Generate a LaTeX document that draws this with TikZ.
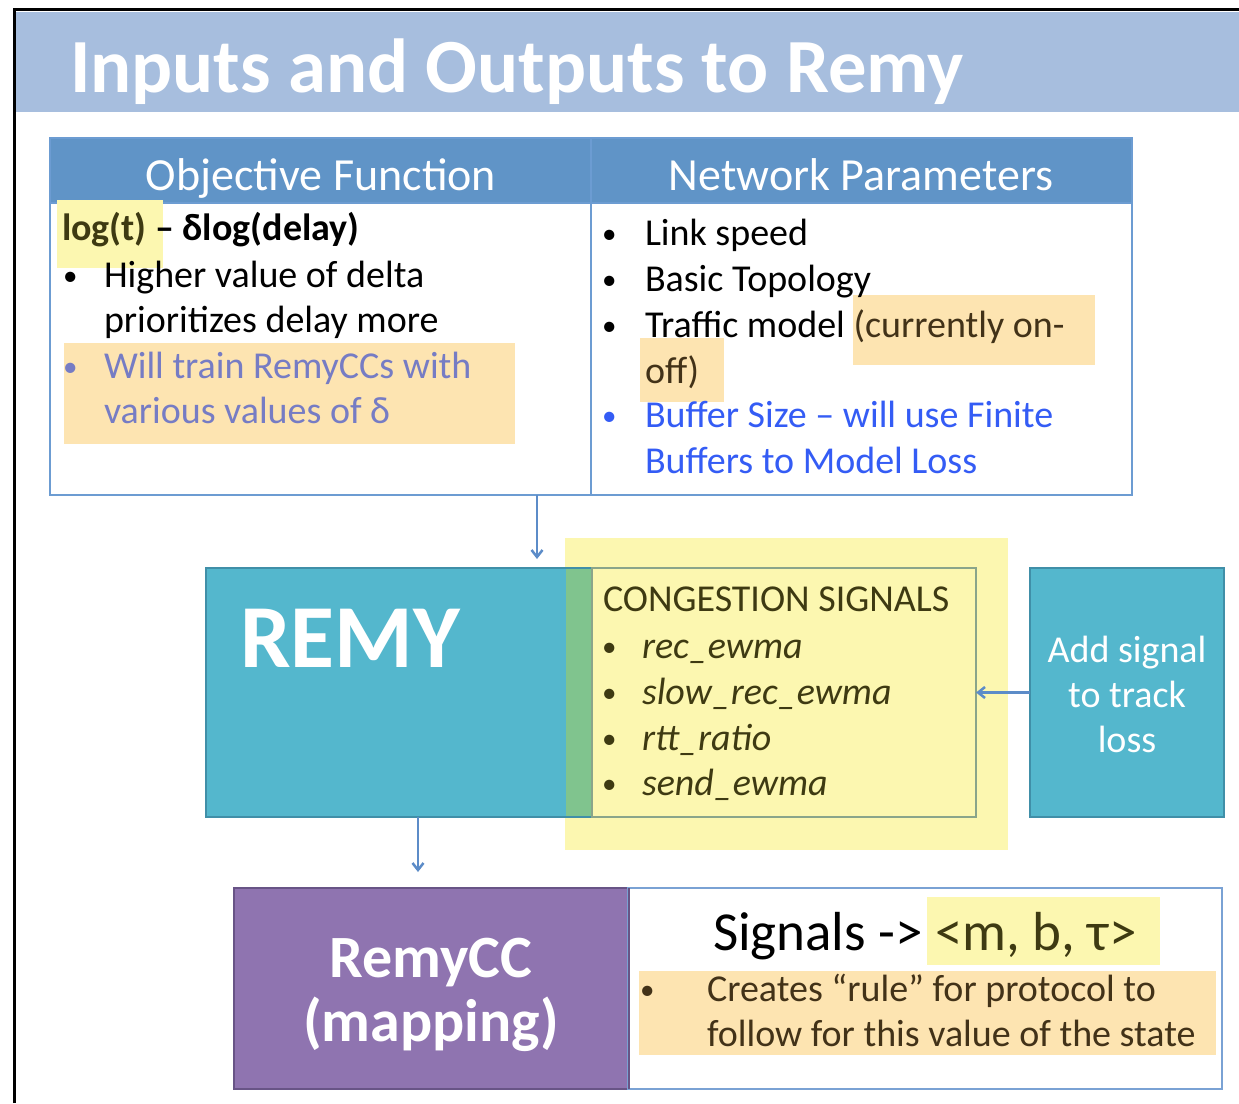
\documentclass[tikz,border=0pt]{standalone}
\usepackage{fontspec}
\setmainfont{Carlito}
\usetikzlibrary{arrows.meta}

\definecolor{titleband}{RGB}{167,190,222}
\definecolor{headfill}{RGB}{96,148,199}
\definecolor{tabline}{RGB}{108,156,210}
\definecolor{tealfill}{RGB}{84,183,205}
\definecolor{tealline}{RGB}{64,143,168}
\definecolor{greenstrip}{RGB}{128,196,142}
\definecolor{hlyellow}{RGB}{252,247,176}
\definecolor{hlorange}{RGB}{253,228,177}
\definecolor{purplefill}{RGB}{143,116,176}
\definecolor{purpleline}{RGB}{104,84,134}
\definecolor{sigline}{RGB}{138,165,138}
\definecolor{blueline}{RGB}{122,162,212}
\definecolor{conncol}{RGB}{92,140,200}
\definecolor{bluetext}{RGB}{52,92,245}
\definecolor{mutedblue}{RGB}{118,124,196}
\definecolor{olivetext}{RGB}{62,58,18}
\definecolor{browntext}{RGB}{66,50,24}

\newcommand{\bodyfont}{\fontsize{38}{45}\selectfont}

\begin{document}
\begin{tikzpicture}[x=1pt,y=-1pt,
  txt/.style={inner sep=0pt, outer sep=0pt, anchor=base west, font=\bodyfont},
  ctxt/.style={inner sep=0pt, outer sep=0pt, anchor=base, font=\bodyfont},
  dot/.style={inner sep=0pt, outer sep=0pt, anchor=base west, font=\fontsize{29}{29}\selectfont},
  panel/.style={anchor=north west, inner sep=0pt, outer sep=0pt, line width=2.5pt},
  conn/.style={draw=conncol, line width=2.5pt, -{Straight Barb[length=7pt,width=11pt,line width=2.5pt]}}
]
\useasboundingbox (0,0) rectangle (1239,1103);
\fill[white] (0,0) rectangle (1239,1103);

% slide frame and title band
\fill[titleband] (16,12) rectangle (1239,112);
\draw[black, line width=3pt] (14,1103) -- (14,9) -- (1239,9);
\node[txt, font=\fontsize{76.6}{80}\selectfont\bfseries, text=white] (title) at (70,92) {Inputs and Outputs to Remy};

% ---------- inputs table ----------
\node[panel, fill=headfill, draw=tabline, minimum width=1082, minimum height=65] (head) at (50,138) {};
\node[panel, draw=tabline, minimum width=1082, minimum height=357] (table) at (50,138) {};
\draw[tabline, line width=2.5pt] (head.south west) -- (head.south east);
\coordinate (divtop) at (591,138);
\coordinate (divbot) at (591,495);
\draw[tabline, line width=2.5pt] (divtop) -- (divbot);
\node[ctxt, font=\fontsize{46}{50}\selectfont, text=white] (objhead) at (321,190) {Objective Function};
\node[ctxt, font=\fontsize{46}{50}\selectfont, text=white] (nethead) at (861,190) {Network Parameters};

% highlights behind the table text
\fill[hlyellow] (57,200) rectangle (163,268);
\fill[hlorange] (64,343) rectangle (515,444);
\fill[hlorange] (853,295) rectangle (1095,365);
\fill[hlorange] (640,338) rectangle (724,402);

% objective function column
\node[txt, font=\bodyfont\bfseries] (obj) at (62,240) {\textcolor{olivetext}{log(t)} – δlog(delay)};
\node[dot] (b1) at (63,285) {•};
\node[txt] (hi1) at (104,287) {Higher value of delta};
\node[txt] (hi2) at (104,332) {prioritizes delay more};
\node[dot, text=mutedblue] (b2) at (63,376) {•};
\node[txt, text=mutedblue] (tr1) at (104,378) {Will train RemyCCs with};
\node[txt, text=mutedblue] (tr2) at (104,423) {various values of δ};

% network parameters column
\node[dot] (b3) at (602,243) {•};
\node[txt] (np1) at (645,245) {Link speed};
\node[dot] (b4) at (602,289) {•};
\node[txt] (np2) at (645,291) {Basic Topology};
\node[dot] (b5) at (602,335) {•};
\node[txt] (np3) at (645,337) {Traffic model \textcolor{browntext}{(currently on-}};
\node[txt, text=browntext] (np3b) at (645,383) {off)};
\node[dot, text=bluetext] (b6) at (602,425) {•};
\node[txt, text=bluetext] (np4) at (645,427) {Buffer Size – will use Finite};
\node[txt, text=bluetext] (np4b) at (645,473) {Buffers to Model Loss};

% ---------- Remy and its congestion signals ----------
\fill[hlyellow] (565,538) rectangle (1008,850);
\node[panel, fill=tealfill, draw=tealline, minimum width=386, minimum height=249] (remy) at (206,568) {};
\fill[greenstrip] (566,569.25) rectangle (592,815.75);
\node[panel, draw=sigline, minimum width=384, minimum height=249] (sig) at (592,568) {};
\node[txt, font=\fontsize{90}{90}\selectfont\bfseries, text=white] (remylabel) at (240,667) {REMY};

\node[txt, text=olivetext] (sighead) at (603,611) {CONGESTION SIGNALS};
\node[dot, text=olivetext] (s1b) at (602,656) {•};
\node[txt, text=olivetext, font=\bodyfont\itshape] (s1) at (642,658) {rec\_ewma};
\node[dot, text=olivetext] (s2b) at (602,702) {•};
\node[txt, text=olivetext, font=\bodyfont\itshape] (s2) at (642,704) {slow\_rec\_ewma};
\node[dot, text=olivetext] (s3b) at (602,748) {•};
\node[txt, text=olivetext, font=\bodyfont\itshape] (s3) at (642,750) {rtt\_ratio};
\node[dot, text=olivetext] (s4b) at (602,793) {•};
\node[txt, text=olivetext, font=\bodyfont\itshape] (s4) at (642,795) {send\_ewma};

% new loss signal
\node[panel, fill=tealfill, draw=tealline, minimum width=194, minimum height=249] (addbox) at (1030,568) {};
\node[ctxt, text=white] (add1) at (1127,662) {Add signal};
\node[ctxt, text=white] (add2) at (1127,707) {to track};
\node[ctxt, text=white] (add3) at (1127,752) {loss};

% ---------- RemyCC mapping ----------
\node[panel, fill=purplefill, draw=purpleline, minimum width=395, minimum height=201] (remycc) at (234,888) {};
\node[panel, draw=blueline, minimum width=594, minimum height=201] (rule) at (628,888) {};
\draw[purpleline, line width=2.5pt] (remycc.north east) -- (remycc.south east);
\node[ctxt, font=\fontsize{60}{60}\selectfont\bfseries, text=white] (cc1) at (431,977) {RemyCC};
\node[ctxt, font=\fontsize{60}{60}\selectfont\bfseries, text=white] (cc2) at (431,1041) {(mapping)};

\fill[hlyellow] (927,897) rectangle (1160,965);
\fill[hlorange] (639,971) rectangle (1216,1055);
\node[txt, font=\fontsize{55}{60}\selectfont] (map) at (713,950) {Signals -> \textcolor{olivetext}{<m, b, τ>}};
\node[dot, text=browntext] (rb) at (640,999) {•};
\node[txt, text=browntext] (r1) at (707,1001) {Creates “rule” for protocol to};
\node[txt, text=browntext] (r2) at (707,1046) {follow for this value of the state};

% ---------- connectors ----------
\coordinate (tabout) at (537,495);
\draw[conn, shorten >=9pt] (tabout) -- (tabout |- remy.north);
\coordinate (remyout) at (418,817);
\draw[conn, shorten >=16pt] (remyout) -- (remyout |- remycc.north);
\draw[conn] (addbox.west) -- (sig.east);
\end{tikzpicture}
\end{document}
